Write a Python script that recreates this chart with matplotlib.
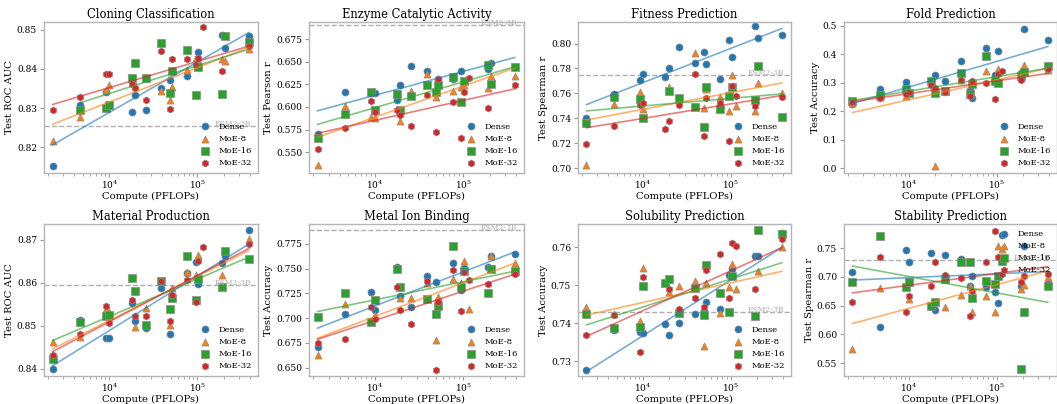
import numpy as np
import matplotlib
matplotlib.use('Agg')
import matplotlib.pyplot as plt
from matplotlib.ticker import MultipleLocator, FormatStrFormatter

plt.rcParams['font.family'] = ['DejaVu Serif']
plt.rcParams['mathtext.fontset'] = 'dejavuserif'

N = None

# compute budgets (PFLOPs) shared by all runs
compute = [2.25e3, 4.6e3, 9.1e3, 1.0e4, 1.8e4, 1.95e4, 2.6e4, 3.9e4, 4.9e4,
           5.2e4, 7.6e4, 9.6e4, 1.03e5, 1.16e5, 1.92e5, 2.05e5, 3.85e5]

models = ['Dense', 'MoE-8', 'MoE-16', 'MoE-32']

cloning_dense = [0.8153, 0.8309, 0.8342, N, 0.8291, 0.8333, 0.8295, 0.8352, 0.8371, N, 0.8382, N, 0.8443, N, 0.8488, 0.8453, 0.8483]
cloning_moe8 = [0.8217, 0.8278, 0.8347, 0.8358, N, 0.8358, 0.8378, 0.8344, 0.8320, 0.8353, 0.8398, 0.8429, 0.8422, N, 0.8425, 0.8420, 0.8452]
cloning_moe16 = [N, 0.8295, 0.8301, 0.8308, 0.8377, 0.8414, 0.8378, 0.8466, 0.8339, 0.8394, 0.8449, 0.8333, 0.8406, N, 0.8335, 0.8483, 0.8469]
cloning_moe32 = [0.8295, 0.8329, 0.8388, 0.8386, 0.8361, 0.8352, 0.8320, 0.8446, 0.8297, 0.8425, 0.8426, 0.8409, 0.8429, 0.8507, 0.8394, N, 0.8458]

enzyme_dense = [0.5702, 0.6171, 0.6160, 0.6160, 0.6072, 0.6244, 0.6453, 0.6402, N, 0.6306, 0.6314, 0.6402, N, N, 0.6416, 0.6482, 0.6446]
enzyme_moe8 = [0.5357, 0.6013, 0.5889, 0.5877, N, 0.5841, 0.6182, 0.6365, 0.6116, N, 0.6178, 0.6219, 0.6244, N, 0.6207, 0.6343, 0.6343]
enzyme_moe16 = [0.5658, 0.5925, 0.6170, 0.5962, 0.6142, 0.5969, 0.6123, 0.6244, 0.6164, 0.6244, 0.6328, 0.6054, 0.6292, N, 0.6464, 0.6255, 0.6446]
enzyme_moe32 = [0.5530, 0.5768, 0.6061, 0.5940, 0.5962, 0.5907, 0.5786, 0.6134, 0.5720, 0.6310, 0.6054, 0.5658, 0.6171, 0.6325, 0.5988, N, 0.6244]

fitness_dense = [0.7400, 0.7595, 0.7707, 0.7755, 0.7728, 0.7800, 0.7973, 0.7840, 0.7928, 0.7832, 0.7715, 0.8027, 0.7888, N, 0.8139, 0.8048, 0.8072]
fitness_moe8 = [0.7021, 0.7515, 0.7613, 0.7472, N, 0.7648, N, 0.7925, 0.7480, 0.7632, 0.7573, 0.7461, 0.7747, 0.7499, 0.7461, 0.7680, 0.7605]
fitness_moe16 = [0.7360, 0.7573, 0.7552, 0.7400, N, 0.7621, 0.7560, 0.7488, 0.7333, 0.7648, 0.7472, 0.7581, 0.7648, N, 0.7547, 0.7819, 0.7408]
fitness_moe32 = [0.7195, 0.7339, 0.7507, 0.7525, 0.7312, 0.7381, 0.7507, 0.7755, 0.7259, 0.7560, 0.7525, 0.7221, 0.7659, 0.7579, 0.7499, N, 0.7573]

fold_dense = [0.2252, 0.2794, 0.3037, N, 0.3060, 0.3291, 0.3060, 0.3776, 0.2737, 0.2483, 0.4238, 0.3268, 0.4134, N, 0.3349, 0.4908, 0.4503]
fold_moe8 = [0.2300, 0.2500, 0.2540, 0.2650, 0.3000, 0.0081, 0.2700, 0.3100, 0.2600, 0.3000, 0.3406, 0.3152, 0.3500, N, 0.3200, 0.3614, 0.3441]
fold_moe16 = [0.2367, 0.2563, 0.2771, 0.2656, 0.3060, 0.2656, 0.2714, 0.3349, 0.2598, 0.2968, 0.3961, 0.3060, 0.3002, N, 0.3233, 0.3383, 0.3580]
fold_moe32 = [0.2310, 0.2483, 0.2598, 0.2679, 0.2910, 0.2806, 0.2691, 0.3083, 0.2540, 0.3060, 0.3002, 0.2448, 0.3314, 0.3406, 0.3083, N, 0.3487]

material_dense = [0.8400, 0.8514, 0.8472, 0.8472, 0.8554, 0.8510, 0.8495, 0.8588, 0.8481, N, 0.8622, 0.8648, 0.8598, N, 0.8647, 0.8662, 0.8722]
material_moe8 = [0.8462, 0.8474, 0.8539, 0.8531, N, 0.8496, 0.8542, N, 0.8502, 0.8587, 0.8625, 0.8619, 0.8665, N, 0.8619, N, 0.8702]
material_moe16 = [0.8422, 0.8508, 0.8522, 0.8524, 0.8612, 0.8581, 0.8502, 0.8605, 0.8539, 0.8565, 0.8662, 0.8560, 0.8608, N, 0.8591, 0.8675, 0.8656]
material_moe32 = [0.8433, 0.8481, 0.8545, 0.8506, 0.8560, 0.8523, 0.8523, 0.8605, 0.8510, 0.8572, 0.8606, 0.8555, 0.8650, 0.8683, N, N, 0.8691]

metal_dense = [0.6710, 0.7040, 0.7267, 0.7084, 0.7514, 0.7220, 0.7108, 0.7422, 0.7368, 0.7176, 0.7554, 0.7287, 0.7503, N, 0.7514, 0.7632, 0.7649]
metal_moe8 = [0.6625, 0.7142, N, 0.7030, N, 0.7199, 0.7199, 0.7351, 0.6777, 0.7209, 0.7395, 0.7355, 0.7581, 0.7091, N, 0.7632, 0.7554]
metal_moe16 = [0.7013, 0.7253, 0.6966, 0.7182, 0.7497, 0.7311, N, 0.7193, 0.7040, 0.7125, 0.7733, 0.7311, 0.7480, N, 0.7250, 0.7497, 0.7480]
metal_moe32 = [0.6753, 0.6794, 0.7115, 0.6990, 0.7311, 0.7081, 0.6939, 0.7378, 0.6476, 0.7159, 0.7490, 0.7074, 0.7470, 0.7385, 0.7345, N, 0.7446]

solubility_dense = [0.7278, 0.7383, 0.7378, 0.7375, 0.7398, 0.7368, 0.7401, 0.7424, 0.7431, 0.7457, 0.7436, 0.7528, 0.7543, N, 0.7578, 0.7578, 0.7637]
solubility_moe8 = [0.7442, 0.7425, 0.7405, 0.7546, N, 0.7482, 0.7497, 0.7511, 0.7341, 0.7506, 0.7427, 0.7495, 0.7556, 0.7489, N, 0.7536, 0.7600]
solubility_moe16 = [0.7425, 0.7388, 0.7389, 0.7497, 0.7505, 0.7517, 0.7426, 0.7492, 0.7422, 0.7554, 0.7480, 0.7429, 0.7524, N, 0.7418, 0.7644, 0.7635]
solubility_moe32 = [0.7369, 0.7422, 0.7324, 0.7521, N, 0.7489, 0.7438, 0.7467, 0.7442, 0.7539, 0.7581, 0.7467, 0.7611, 0.7603, 0.7489, N, 0.7622]

stability_dense = [0.7083, 0.6126, 0.7471, 0.7268, 0.7419, 0.6416, 0.7384, 0.7314, 0.6850, 0.7013, 0.6822, 0.6735, 0.6549, 0.7732, 0.6850, 0.7546, 0.6900]
stability_moe8 = [0.5744, 0.6802, N, 0.6616, N, N, 0.6471, 0.6686, 0.6850, 0.6390, 0.6674, 0.6384, 0.7535, 0.7488, 0.6793, 0.6862, 0.7000]
stability_moe16 = [0.6907, 0.7709, 0.6831, 0.6907, 0.6488, 0.6558, 0.6965, 0.7268, 0.7256, 0.6628, 0.6936, 0.6878, 0.7024, 0.7285, 0.5390, 0.6395, 0.6850]
stability_moe32 = [0.6570, 0.7343, 0.6390, 0.6663, 0.6837, 0.7268, 0.7035, 0.6977, 0.6326, 0.6762, 0.7256, 0.7808, 0.7343, 0.7053, 0.6907, 0.7024, 0.7053]

titles = ['Cloning Classification', 'Enzyme Catalytic Activity', 'Fitness Prediction', 'Fold Prediction',
          'Material Production', 'Metal Ion Binding', 'Solubility Prediction', 'Stability Prediction']
ylabels = ['Test ROC AUC', 'Test Pearson r', 'Test Spearman r', 'Test Accuracy',
           'Test ROC AUC', 'Test Accuracy', 'Test Accuracy', 'Test Spearman r']
esm2_3b = [0.8254, 0.6904, 0.7747, None, 0.8595, 0.7885, 0.7429, 0.7302]

series = [
    [cloning_dense, cloning_moe8, cloning_moe16, cloning_moe32],
    [enzyme_dense, enzyme_moe8, enzyme_moe16, enzyme_moe32],
    [fitness_dense, fitness_moe8, fitness_moe16, fitness_moe32],
    [fold_dense, fold_moe8, fold_moe16, fold_moe32],
    [material_dense, material_moe8, material_moe16, material_moe32],
    [metal_dense, metal_moe8, metal_moe16, metal_moe32],
    [solubility_dense, solubility_moe8, solubility_moe16, solubility_moe32],
    [stability_dense, stability_moe8, stability_moe16, stability_moe32],
]

# axis settings: ylim, tick step, tick format, legend location
ylims = [(0.8134, 0.852), (0.527, 0.694), (0.696, 0.8173), (-0.017, 0.514),
         (0.8383, 0.8737), (0.6416, 0.795), (0.7261, 0.7661), (0.5274, 0.7924)]
ysteps = [0.01, 0.025, 0.02, 0.1, 0.01, 0.025, 0.01, 0.05]
yfmts = ['%.2f', '%.3f', '%.2f', '%.1f', '%.2f', '%.3f', '%.2f', '%.2f']
legend_locs = ['lower right'] * 7 + ['upper right']

colors = ['#1f77b4', '#ff7f0e', '#2ca02c', '#d62728']
markers = ['o', '^', 's', 'h']

W, H = 1057, 404
col_left = [44, 309, 578, 844]
col_right = [258, 524, 791, 1057]
row_top = [22, 224]
row_bottom = [173, 376]

fig = plt.figure(figsize=(W / 100, H / 100), dpi=100)

for i in range(8):
    r, c = divmod(i, 4)
    rect = [col_left[c] / W, 1 - row_bottom[r] / H,
            (col_right[c] - col_left[c]) / W, (row_bottom[r] - row_top[r]) / H]
    ax = fig.add_axes(rect)
    ax.set_xscale('log')

    for vals, name, col, mk in zip(series[i], models, colors, markers):
        pts = [(x, y) for x, y in zip(compute, vals) if y is not None]
        xs = np.array([p[0] for p in pts])
        ys = np.array([p[1] for p in pts])
        ax.scatter(xs, ys, s=26, marker=mk, color=col, edgecolor='#8c8c8c',
                   linewidths=0.5, label=name, zorder=2)
        # linear trend in log-compute
        b, a = np.polyfit(np.log10(xs), ys, 1)
        lx = np.array([xs.min(), xs.max()])
        ax.plot(lx, a + b * np.log10(lx), color=col, alpha=0.6, lw=1.2, zorder=3)

    if esm2_3b[i] is not None:
        ax.axhline(esm2_3b[i], color='#b0b0b0', ls='--', lw=1.0, zorder=1)
        ax.annotate('ESM2-3B', xy=(0.97, esm2_3b[i]), xycoords=('axes fraction', 'data'),
                    xytext=(0, 1.5), textcoords='offset points', ha='right', va='center',
                    fontsize=5.5, color='#b0b0b0')

    ax.set_xlim(1.8e3, 4.9e5)
    ax.set_ylim(*ylims[i])
    ax.yaxis.set_major_locator(MultipleLocator(ysteps[i]))
    ax.yaxis.set_major_formatter(FormatStrFormatter(yfmts[i]))

    ax.set_title(titles[i], fontsize=8.3, pad=3)
    ax.set_ylabel(ylabels[i], fontsize=7.2, labelpad=2)
    ax.set_xlabel('Compute (PFLOPs)', fontsize=7.2, labelpad=0.5)
    ax.tick_params(axis='both', which='major', labelsize=6.5, length=3, width=0.8,
                   color='#999999', pad=2)
    ax.tick_params(axis='x', which='major', pad=1)
    ax.tick_params(axis='x', which='minor', length=2, width=0.6, color='#999999')
    for sp in ax.spines.values():
        sp.set_color('#b5b5b5')
        sp.set_linewidth(1.0)

    ax.legend(loc=legend_locs[i], frameon=False, fontsize=6, labelspacing=0.5,
              handletextpad=0.6, borderaxespad=0.3, markerscale=1.0)

plt.savefig('out.png', dpi=100)
